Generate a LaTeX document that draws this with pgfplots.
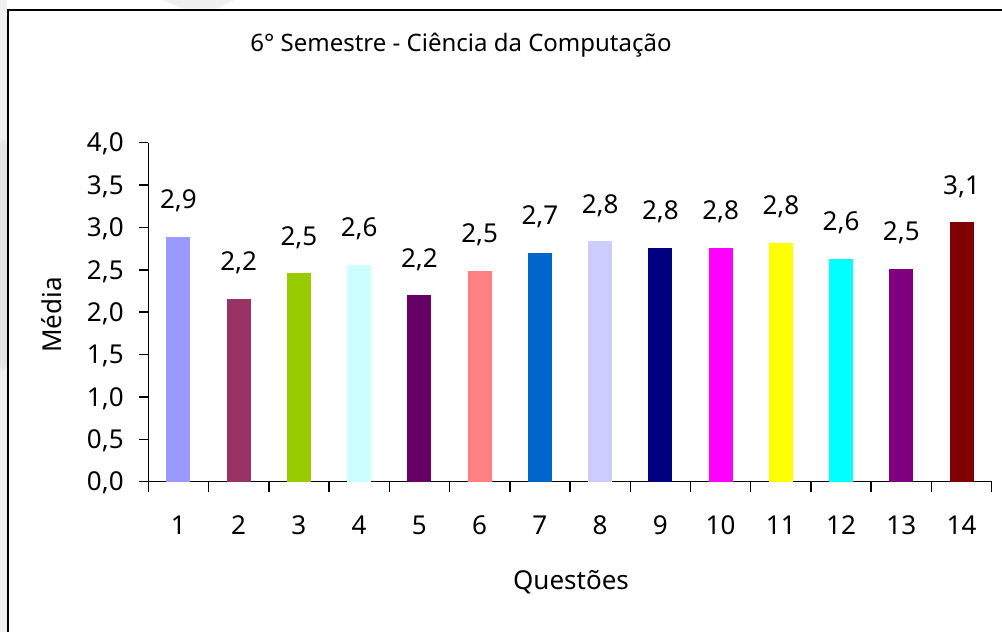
\documentclass[border=0pt]{standalone}
\usepackage{fontspec}
\setmainfont{Noto Sans}
\usepackage{pgfplots}
\pgfplotsset{compat=1.18}
\pgfkeys{/pgf/number format/.cd, fixed, fixed zerofill, precision=1, use comma, assume math mode=true}
\definecolor{c1}{HTML}{9999FF}
\definecolor{c2}{HTML}{993366}
\definecolor{c3}{HTML}{99CC00}
\definecolor{c4}{HTML}{CCFFFF}
\definecolor{c5}{HTML}{660066}
\definecolor{c6}{HTML}{FF8080}
\definecolor{c7}{HTML}{0066CC}
\definecolor{c8}{HTML}{CCCCFF}
\definecolor{c9}{HTML}{000080}
\definecolor{c10}{HTML}{FF00FF}
\definecolor{c11}{HTML}{FFFF00}
\definecolor{c12}{HTML}{00FFFF}
\definecolor{c13}{HTML}{800080}
\definecolor{c14}{HTML}{800000}
\newcommand\f{\fontsize{13bp}{15.6bp}\selectfont}
\begin{document}
\begin{tikzpicture}
\path[use as bounding box, fill=white] (0,0) rectangle (501bp,-316bp);
\fill[gray!12] (0,0) rectangle (3.5bp,-316bp);
\fill[gray!20, rounded corners=3bp] (0,-70bp) rectangle (3.5bp,-185bp);
\fill[gray!12] (81bp,0) -- (117bp,0) -- (107bp,-5bp) -- (93bp,-5bp) -- cycle;
\draw[line width=1bp] (3.75bp,-316bp) -- (3.75bp,-5bp) -- (501bp,-5bp);
\begin{axis}[
  at={(74.15bp,-240.85bp)}, anchor=south west,
  scale only axis, width=421.7bp, height=169.5bp,
  xmin=0.5, xmax=14.5, ymin=0, ymax=4, enlargelimits=false,
  axis x line*=bottom, axis y line*=left,
  axis line style={-, line width=0.75bp, black},
  tick align=outside,
  tick style={black, line width=0.75bp},
  xtick={1,...,14},
  xticklabels={1,2,3,4,5,6,7,8,9,10,11,12,13,14},
  major x tick style={draw=none},
  minor xtick={0.5,1.5,...,14.5},
  minor tick length=5bp,
  ytick={0,0.5,...,4},
  major tick length=4.5bp,
  tick label style={font=\f},
  xticklabel style={anchor=base, inner sep=0pt, yshift=-22bp},
  yticklabel style={anchor=base east, inner sep=0pt, xshift=-7.6bp, yshift=-4.6bp},
  ybar, bar width=12bp,
  nodes near coords,
  nodes near coords style={anchor=base, inner sep=0pt, yshift=14bp, font=\f, text=black},
  every axis plot/.append style={draw=none, bar shift=0pt},
]
\addplot[fill=c1, bar shift=0pt] coordinates {(1,2.89)};
\addplot[fill=c2, bar shift=0pt] coordinates {(2,2.16)};
\addplot[fill=c3, bar shift=0pt] coordinates {(3,2.46)};
\addplot[fill=c4, bar shift=0pt] coordinates {(4,2.56)};
\addplot[fill=c5, bar shift=0pt] coordinates {(5,2.20)};
\addplot[fill=c6, bar shift=0pt] coordinates {(6,2.49)};
\addplot[fill=c7, bar shift=0pt] coordinates {(7,2.70)};
\addplot[fill=c8, bar shift=0pt] coordinates {(8,2.84)};
\addplot[fill=c9, bar shift=0pt] coordinates {(9,2.76)};
\addplot[fill=c10, bar shift=0pt] coordinates {(10,2.76)};
\addplot[fill=c11, bar shift=0pt] coordinates {(11,2.82)};
\addplot[fill=c12, bar shift=0pt] coordinates {(12,2.63)};
\addplot[fill=c13, bar shift=0pt] coordinates {(13,2.51)};
\addplot[fill=c14, bar shift=0pt] coordinates {(14,3.06)};
\end{axis}
\node[font=\fontsize{12bp}{14.4bp}\selectfont, anchor=base, inner sep=0pt] at (230.5bp,-25.5bp) {6° Semestre - Ciência da Computação};
\node[font=\f, anchor=base, inner sep=0pt] at (285.5bp,-294.5bp) {Questões};
\node[font=\f, rotate=90, anchor=base, inner sep=0pt] at (30.8bp,-157.5bp) {Média};
\end{tikzpicture}
\end{document}
